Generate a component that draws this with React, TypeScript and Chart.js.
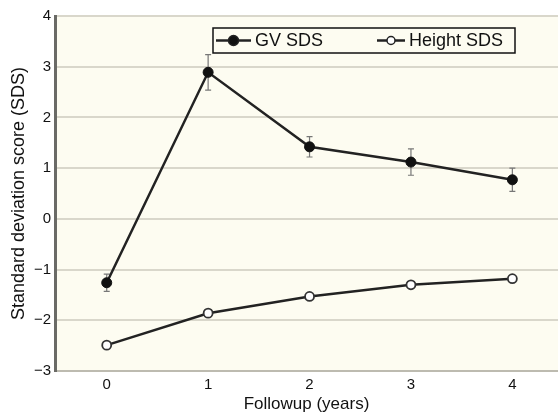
import React, { useEffect, useRef } from "react";
import { Chart, registerables } from "chart.js";

Chart.register(...registerables);

const years = [0, 1, 2, 3, 4];
const gvSds = [-1.26, 2.89, 1.42, 1.12, 0.77];
const gvErr = [0.17, 0.35, 0.2, 0.26, 0.23];
const heightSds = [-2.49, -1.86, -1.53, -1.3, -1.18];
const heightErr = [0.05, 0.04, 0.04, 0.04, 0.04];
const yTicks = [-3, -2, -1, 0, 1, 2, 3, 4];

const FONT = "'Liberation Sans', Arial, sans-serif";

const bgPlugin = {
  id: "plotBg",
  beforeDraw(chart: any) {
    const { ctx, chartArea } = chart;
    ctx.save();
    ctx.fillStyle = "#fdfcf1";
    ctx.fillRect(chartArea.left, chartArea.top, chartArea.right - chartArea.left, chartArea.bottom - chartArea.top);
    ctx.restore();
  },
};

const errPlugin = {
  id: "errBars",
  beforeDatasetsDraw(chart: any) {
    const { ctx } = chart;
    const ys = chart.scales.y;
    const errs = [gvErr, heightErr];
    ctx.save();
    ctx.strokeStyle = "#777";
    ctx.lineWidth = 1.2;
    chart.data.datasets.forEach((ds: any, i: number) => {
      const meta = chart.getDatasetMeta(i);
      meta.data.forEach((pt: any, j: number) => {
        const v = ds.data[j].y;
        const e = errs[i][j];
        const y1 = ys.getPixelForValue(v + e);
        const y2 = ys.getPixelForValue(v - e);
        const x = pt.x;
        ctx.beginPath();
        ctx.moveTo(x, y1);
        ctx.lineTo(x, y2);
        ctx.moveTo(x - 3, y1);
        ctx.lineTo(x + 3, y1);
        ctx.moveTo(x - 3, y2);
        ctx.lineTo(x + 3, y2);
        ctx.stroke();
      });
    });
    ctx.restore();
  },
};

const legendPlugin = {
  id: "boxLegend",
  afterDraw(chart: any) {
    const { ctx, chartArea } = chart;
    const L = chartArea.left + 158;
    const T = chartArea.top + 12;
    const W = 302;
    const H = 25;
    ctx.save();
    ctx.fillStyle = "#fdfcf1";
    ctx.fillRect(L, T, W, H);
    ctx.strokeStyle = "#111";
    ctx.lineWidth = 1.5;
    ctx.strokeRect(L, T, W, H);
    const cy = T + H / 2;
    const entries = [
      { x: L + 3, w: 35, fill: "#111", r: 5, text: chart.data.datasets[0].label },
      { x: L + 164, w: 28, fill: "#ffffff", r: 4, text: chart.data.datasets[1].label },
    ];
    entries.forEach((e) => {
      ctx.strokeStyle = "#222";
      ctx.lineWidth = 2.5;
      ctx.beginPath();
      ctx.moveTo(e.x, cy);
      ctx.lineTo(e.x + e.w, cy);
      ctx.stroke();
      ctx.beginPath();
      ctx.arc(e.x + e.w / 2, cy, e.r, 0, Math.PI * 2);
      ctx.fillStyle = e.fill;
      ctx.fill();
      ctx.lineWidth = 1.5;
      ctx.strokeStyle = "#222";
      ctx.stroke();
      ctx.fillStyle = "#111";
      ctx.font = `18px ${FONT}`;
      ctx.textBaseline = "middle";
      ctx.textAlign = "left";
      ctx.fillText(e.text, e.x + e.w + 4, cy + 1);
    });
    ctx.restore();
  },
};

export default function App() {
  const ref = useRef<HTMLCanvasElement>(null);
  useEffect(() => {
    if (!ref.current) return;
    const chart = new Chart(ref.current, {
      type: "line",
      data: {
        datasets: [
          {
            label: "GV SDS",
            data: years.map((x, i) => ({ x, y: gvSds[i] })),
            borderColor: "#222",
            borderWidth: 2.5,
            pointBackgroundColor: "#111",
            pointBorderColor: "#111",
            pointRadius: 5,
            pointBorderWidth: 1,
            tension: 0,
          },
          {
            label: "Height SDS",
            data: years.map((x, i) => ({ x, y: heightSds[i] })),
            borderColor: "#222",
            borderWidth: 2.5,
            pointBackgroundColor: "#ffffff",
            pointBorderColor: "#333",
            pointRadius: 4.5,
            pointBorderWidth: 1.8,
            tension: 0,
          },
        ],
      },
      options: {
        responsive: false,
        animation: false,
        layout: { autoPadding: false, padding: { top: 16, right: 0, left: 0, bottom: 0 } },
        plugins: { legend: { display: false }, tooltip: { enabled: false } },
        scales: {
          x: {
            type: "linear",
            min: -0.51,
            max: 4.45,
            afterBuildTicks: (s: any) => {
              s.ticks = years.map((v) => ({ value: v }));
            },
            afterFit: (s: any) => {
              s.height = 44;
              s.paddingLeft = 0;
              s.paddingRight = 0;
            },
            grid: { display: false, drawTicks: false },
            border: { display: true, color: "#bdbbb0", width: 2 },
            ticks: { font: { family: FONT, size: 15 }, color: "#111", padding: 5 },
            title: {
              display: true,
              text: "Followup (years)",
              font: { family: FONT, size: 17 },
              color: "#111",
              padding: { top: 0, bottom: 0 },
            },
          },
          y: {
            type: "linear",
            min: -3,
            max: 4,
            afterBuildTicks: (s: any) => {
              s.ticks = yTicks.map((v) => ({ value: v }));
            },
            afterFit: (s: any) => {
              s.width = 55;
            },
            grid: { color: "#d9d7cb", lineWidth: 2, drawTicks: false },
            border: { display: true, color: "#6a6a66", width: 3 },
            ticks: {
              font: { family: FONT, size: 15 },
              color: "#111",
              padding: 4,
              callback: (v: any) => String(v).replace("-", "\u2212"),
            },
            title: {
              display: true,
              text: "Standard deviation score (SDS)",
              font: { family: FONT, size: 18 },
              color: "#111",
              padding: { top: 8, bottom: 0 },
            },
          },
        },
      },
      plugins: [bgPlugin, errPlugin, legendPlugin],
    } as any);
    return () => chart.destroy();
  }, []);
  return (
    <div style={{ position: "fixed", left: 0, top: 0, width: 558, height: 415, background: "#fff" }}>
      <canvas ref={ref} width={558} height={415} />
    </div>
  );
}
